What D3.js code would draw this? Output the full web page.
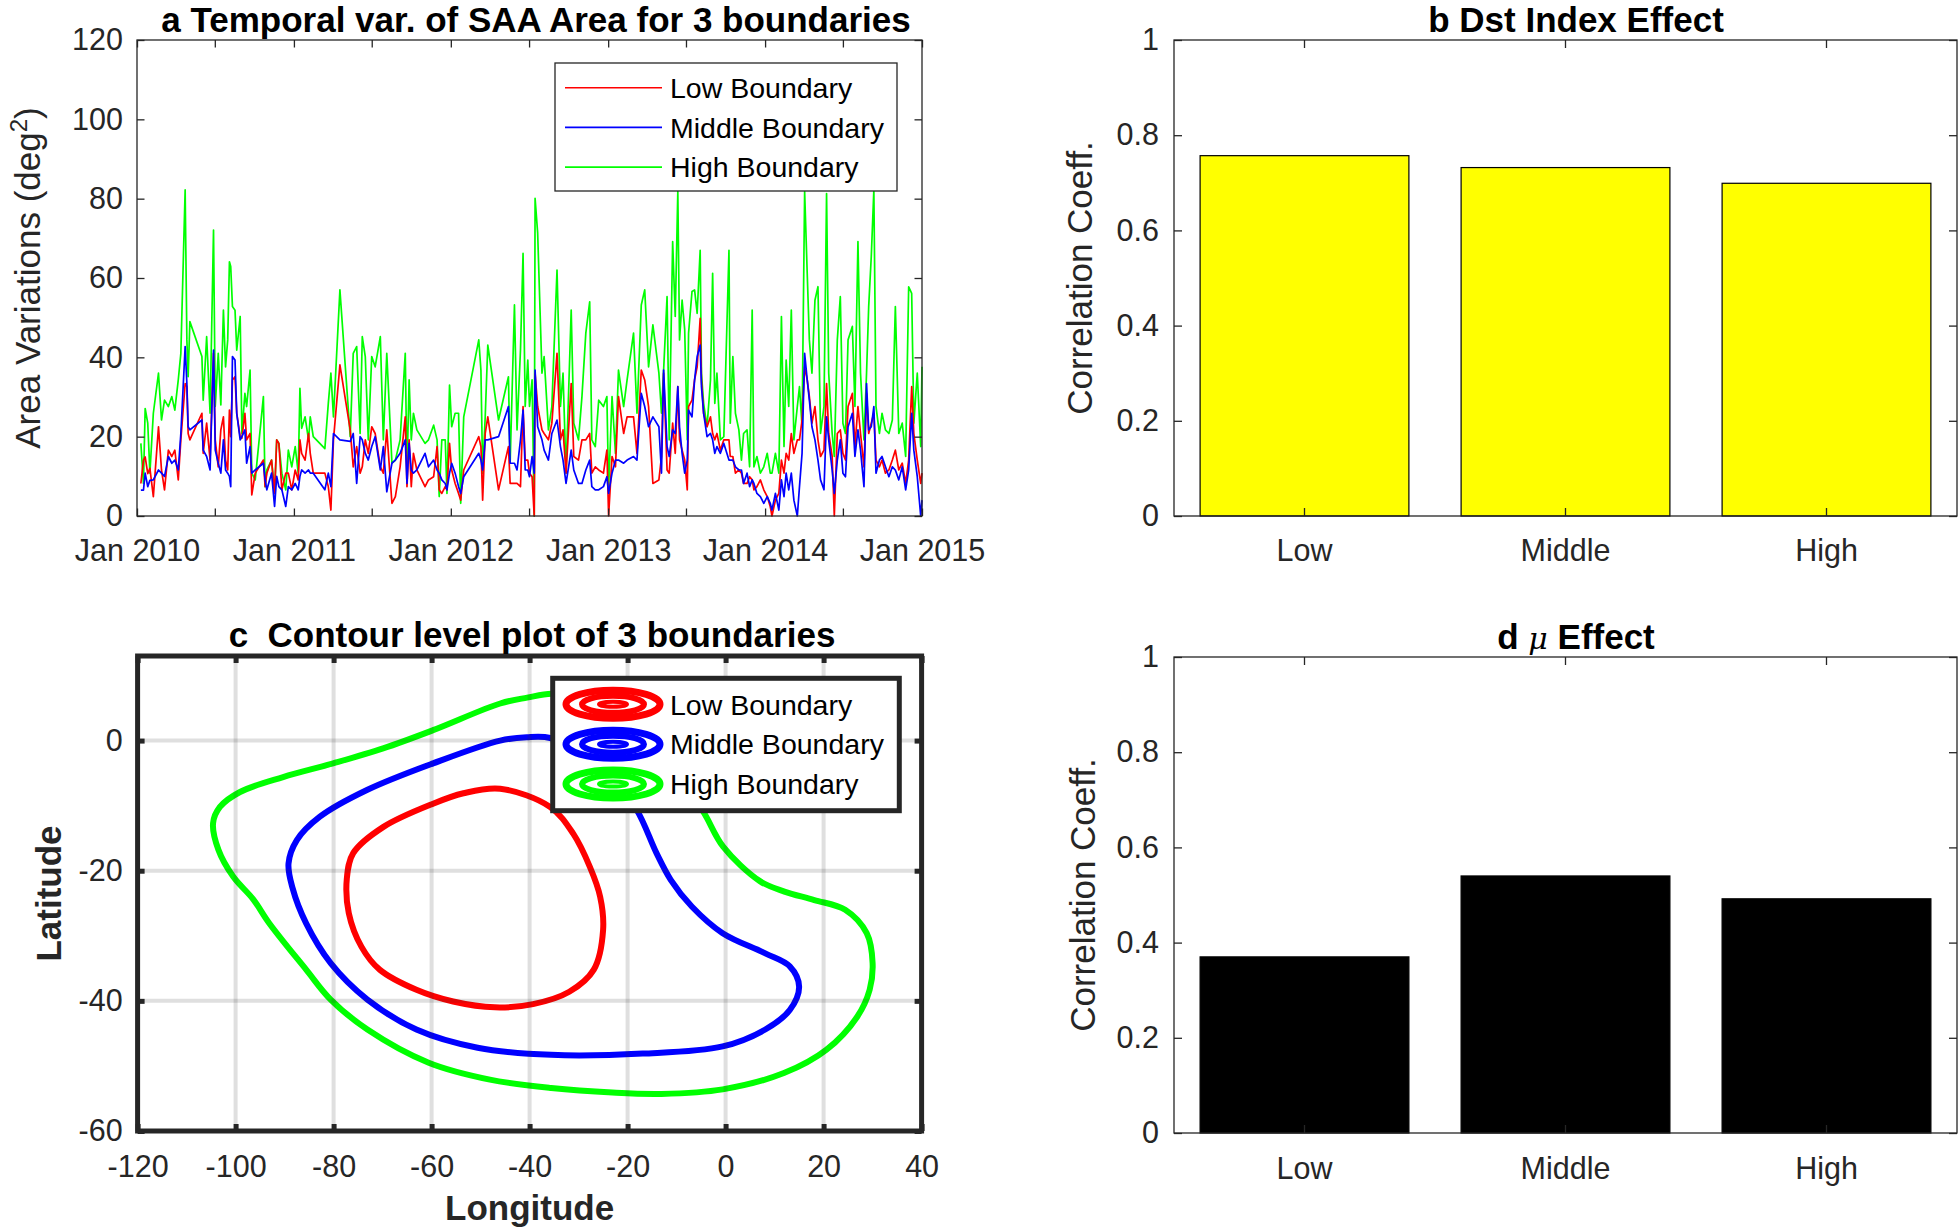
<!DOCTYPE html>
<html><head><meta charset="utf-8">
<script src="https://cdn.jsdelivr.net/npm/d3@7"></script>
<style>
html,body{margin:0;padding:0;background:#fff;}
svg{display:block;font-family:"Liberation Sans",Arial,Helvetica,sans-serif;}
</style></head><body>
<svg id="chart" width="1960" height="1232"></svg>
<script>
// ===================== DATA =====================
// Panel a: observation day (days since 1 Jan 2010) and SAA area (deg^2)
const seriesDays = [9,15,19,25,30,38,50,57,64,73,81,88,96,102,112,116,119,123,151,154,162,170,178,182,189,195,201,206,211,215,218,222,228,232,240,244,251,255,263,267,275,294,298,302,313,320,325,330,337,346,352,360,368,375,379,383,391,399,403,410,437,445,451,457,472,496,503,511,519,524,531,538,546,554,566,573,581,593,
601,612,624,628,633,638,643,651,670,678,690,698,703,709,717,721,727,732,740,748,753,760,795,800,804,810,816,841,864,868,878,884,892,898,903,909,913,919,924,926,932,942,947,957,965,977,985,991,998,1010,1016,1027,1035,1044,1053,1058,1066,1074,1085,1093,1097,1105,1113,1120,1132,1140,1155,1163,1173,1181,1190,1200,
1214,1220,1225,1233,1238,1246,1252,1258,1262,1268,1274,1280,1283,1291,1297,1303,1310,1313,1318,1326,1334,1339,1344,1349,1357,1365,1377,1380,1386,1392,1400,1406,1411,1419,1425,1431,1435,1442,1450,1458,1466,1473,1477,1485,1493,1499,1505,1510,1516,1522,1528,1536,1541,1547,1553,1559,1564,1570,1577,1584,1590,1598,1604,1609,1617,1622,1629,1636,1642,1648,1654,1664,1670,1677,1683,1691,1697,1702,1708,1714,1719,1727,1733,1741,1749,1757,1764,1772,1780,1788,1795,1802,1807,1815,1823,1826];

const highArea = [18.3,8.2,27.1,23.4,10.8,25.9,36.0,24.2,29.2,27.6,30.1,26.7,34.3,41.0,82.2,44.4,35.1,49.0,40.2,29.2,45.2,25.9,72.1,27.6,41.0,28.0,51.9,37.6,44.4,64.1,62.9,52.8,51.9,41.8,50.3,20.8,30.9,27.6,36.8,10.8,9.1,30.1,7.4,11.6,14.1,5.7,19.2,18.3,10.8,6.6,16.6,12.4,17.5,10.8,32.2,22.1,25.0,19.2,25.0,20.0,17.0,28.4,36.0,25.0,57.0,20.0,41.0,42.7,20.8,45.2,40.2,19.2,40.2,37.6,45.2,19.2,41.0,13.3,
14.1,19.2,41.0,10.8,34.3,19.2,25.9,21.7,18.3,19.2,22.9,19.2,4.9,19.2,19.2,5.7,33.0,22.5,25.9,25.9,3.2,25.0,44.4,36.8,10.8,25.0,43.1,24.2,35.1,13.3,53.2,21.7,41.8,66.2,27.6,39.3,27.6,34.3,0.0,80.1,71.3,36.0,40.2,21.7,27.6,62.0,27.6,36.0,10.8,51.9,23.4,19.2,30.1,46.1,54.0,19.2,17.5,29.2,27.6,30.1,6.6,30.1,15.8,36.8,27.6,34.3,46.1,25.9,53.2,57.0,37.6,48.2,
36.0,25.9,36.8,55.3,19.2,69.2,50.3,81.8,44.4,54.4,47.0,19.2,46.1,56.6,57.0,51.1,67.0,36.0,28.4,22.5,34.3,61.2,28.4,36.0,19.2,20.0,67.0,23.4,40.2,25.9,21.7,14.1,20.8,21.7,12.4,51.9,12.4,15.0,10.8,12.4,15.8,10.8,10.8,15.8,10.8,50.3,17.5,39.3,27.6,51.9,19.2,27.6,32.6,22.5,81.8,61.2,44.4,36.0,54.4,57.8,20.8,27.6,81.3,36.0,20.8,15.0,44.4,55.3,23.4,20.8,44.4,47.8,27.6,69.2,36.0,19.2,36.0,52.8,65.4,82.2,27.6,20.8,25.9,21.7,20.8,24.2,52.8,20.8,23.4,15.0,57.8,56.1,23.4,36.0,17.5,37.6];

const lowArea = [8.2,14.1,14.9,10.7,12.0,4.9,22.5,11.6,6.6,16.6,15.0,16.6,9.1,19.2,33.4,32.6,20.8,19.2,25.9,15.8,23.4,14.1,41.0,19.2,12.4,21.7,25.0,14.1,11.6,26.7,20.0,34.3,35.1,25.9,20.0,19.6,25.9,19.2,20.8,5.3,10.8,14.1,7.4,10.8,14.1,5.7,19.2,18.3,6.6,10.8,10.8,6.6,11.6,9.1,19.2,15.8,14.1,20.8,15.8,10.8,10.8,7.4,1.5,19.2,38.1,21.7,12.4,17.5,10.8,12.4,19.2,15.8,22.5,20.8,12.4,10.8,21.7,3.2,
4.9,12.4,25.0,7.4,19.2,7.4,15.8,11.6,7.4,9.1,9.9,17.5,6.6,5.7,7.4,6.6,18.3,11.6,8.2,5.7,4.0,11.6,20.0,17.5,4.0,20.8,25.0,6.6,17.5,8.2,8.2,8.2,7.4,27.6,14.1,14.1,10.8,9.9,0.0,36.0,27.6,21.7,20.8,19.2,23.4,41.0,19.2,21.7,10.8,33.4,15.0,14.1,19.2,19.2,20.8,10.8,12.4,11.6,10.8,16.6,0.0,15.0,12.4,30.1,20.8,25.0,25.0,15.8,36.8,34.3,27.6,8.2,
9.1,15.0,36.0,11.6,10.8,23.4,15.8,32.6,19.2,16.6,14.1,6.6,27.6,29.2,34.3,37.6,49.8,34.3,25.9,22.5,25.0,20.8,19.2,20.8,16.6,19.2,19.2,15.0,15.0,10.8,11.6,10.8,8.2,8.2,9.9,9.1,6.6,7.4,9.1,6.6,4.9,2.4,0.0,4.0,5.7,14.1,10.8,15.8,14.1,20.8,15.8,19.2,19.2,24.2,37.6,34.3,30.1,23.4,27.6,19.2,15.0,16.6,33.4,20.8,15.0,0.0,20.8,21.7,15.8,14.1,27.6,30.9,17.5,27.6,20.8,12.4,30.9,20.8,23.4,25.9,14.1,12.4,14.1,10.8,11.6,14.1,16.6,11.6,13.3,8.2,14.1,32.6,20.8,14.1,8.2,10.8];

const middleArea = [6.5,6.5,10.8,7.4,9.0,9.1,11.6,10.8,10.0,15.0,13.3,14.1,11.6,20.8,42.7,33.4,22.5,21.7,24.2,16.6,15.0,11.6,41.8,16.6,13.3,10.8,19.2,11.6,10.8,10.0,7.4,40.2,39.3,25.9,19.2,20.0,21.7,13.3,17.5,10.8,11.6,13.3,9.1,6.6,10.8,2.4,10.0,7.4,6.6,2.4,7.4,6.6,8.2,6.6,10.0,11.6,10.8,11.6,10.8,10.8,6.6,10.8,7.4,20.8,19.2,18.8,20.8,8.2,20.0,19.2,15.8,14.1,17.5,20.0,11.6,17.5,6.1,13.3,
14.1,15.8,19.2,8.2,18.3,11.6,10.8,11.6,15.8,12.4,14.1,11.6,10.8,9.1,8.2,6.6,10.8,13.3,10.8,7.4,5.7,9.9,15.8,14.1,11.6,19.2,19.2,20.0,27.6,13.3,13.3,11.6,19.2,26.7,11.6,11.6,9.9,15.0,10.8,36.8,22.5,19.2,16.6,14.1,20.8,24.2,17.5,14.1,8.2,16.6,11.6,8.2,8.2,11.6,14.1,7.4,6.6,6.6,7.4,9.9,5.7,10.8,14.1,14.1,13.3,14.1,15.0,14.1,30.9,27.6,22.5,25.0,
22.5,10.8,36.8,17.5,15.0,21.7,20.8,32.6,22.5,15.8,10.8,14.1,26.7,25.0,34.3,40.2,43.1,32.6,25.9,20.0,20.8,19.2,15.8,17.5,15.8,18.3,14.1,14.1,14.1,12.4,11.6,11.6,8.2,10.8,7.4,9.1,8.2,5.7,4.9,3.2,4.9,3.2,1.5,5.7,1.5,9.1,4.9,10.8,6.6,10.8,4.0,0.0,7.4,15.8,41.0,34.3,29.2,22.5,19.2,14.1,9.1,6.6,25.0,19.2,11.6,5.7,14.1,19.2,10.8,9.9,22.5,25.9,15.0,21.7,16.6,7.4,33.4,21.7,22.5,27.6,10.8,14.1,15.0,12.4,9.9,12.4,11.6,9.1,12.4,6.6,11.6,25.9,16.6,9.9,0.0,4.0];

const boundaryNames = ['Low Boundary','Middle Boundary','High Boundary'];
const aYTicks = [0,20,40,60,80,100,120];
const aXTickLabels = ['Jan 2010','Jan 2011','Jan 2012','Jan 2013','Jan 2014','Jan 2015'];

// Panels b & d: correlation coefficients
const barCategories = ['Low','Middle','High'];
const dstCorr = [0.757,0.732,0.699];
const muCorr = [0.370,0.540,0.492];
const corrTicks = [0,0.2,0.4,0.6,0.8,1];

// Panel c: contour boundaries [longitude, latitude]
const lowContour = [[-46.0,-7.4],[-35.8,-10.2],[-31.1,-14.3],[-27.7,-19.4],[-25.6,-24.0],[-25.0,-29.1],[-26.9,-35.2],[-31.9,-38.6],[-39.3,-40.5],[-47.1,-41.0],[-55.6,-40.1],[-63.1,-38.3],[-70.6,-35.2],[-74.3,-31.7],[-76.9,-26.5],[-77.3,-21.2],[-76.0,-17.3],[-69.9,-13.3],[-59.7,-9.7],[-53.5,-8.1]];
const middleContour = [[-46.0,0.0],[-59.7,-3.5],[-73.2,-7.6],[-82.8,-11.7],[-87.5,-15.3],[-89.2,-18.9],[-88.4,-22.6],[-85.6,-28.1],[-80.6,-34.2],[-73.1,-39.8],[-63.1,-44.4],[-50.6,-47.2],[-35.6,-48.3],[-16.9,-48.1],[-0.6,-47.0],[8.1,-44.4],[13.1,-41.4],[15.0,-37.8],[13.1,-34.7],[8.1,-32.7],[-0.6,-29.6],[-6.9,-25.5],[-11.2,-21.4],[-14.1,-17.3],[-18.1,-10.7],[-23.0,-6.0],[-29.0,-2.0],[-35.8,0.4],[-40.6,0.5]];
const highContour = [[-46.0,5.7],[-59.7,1.6],[-69.9,-1.2],[-80.1,-3.5],[-90.3,-5.6],[-99.1,-7.9],[-103.2,-10.2],[-104.6,-12.7],[-103.5,-16.8],[-100.5,-20.9],[-96.4,-24.4],[-93.1,-28.1],[-85.6,-35.2],[-80.6,-39.8],[-73.1,-44.4],[-60.6,-49.5],[-48.1,-52.1],[-35.6,-53.4],[-23.1,-54.1],[-13.1,-54.3],[-0.6,-53.6],[11.9,-51.1],[20.6,-47.5],[26.9,-42.4],[29.4,-38.3],[30.0,-34.2],[28.8,-29.6],[24.4,-26.0],[18.1,-24.5],[12.0,-23.2],[7.0,-21.6],[-0.5,-16.3],[-4.5,-11.0],[-10.0,-5.0],[-18.0,1.5],[-28.0,6.5],[-35.5,7.2],[-40.5,6.6]];
const cXTicks = [-120,-100,-80,-60,-40,-20,0,20,40];
const cYTicks = [-60,-40,-20,0];

// ===================== DRAWING =====================
const FONT = '"Liberation Sans", Arial, Helvetica, sans-serif';
const AX = '#262626';
const TICKFS = 30.5, LABFS = 35, TITFS = 35, LEGFS = 28.5;
const svg = d3.select('#chart');
const colors = ['#ff0000','#0000ff','#00ff00'];

function styleTicks(g, lw){
  g.select('.domain').remove();
  g.selectAll('.tick line').attr('stroke',AX).attr('stroke-width',lw);
  g.selectAll('.tick text').attr('fill',AX).style('font-size',TICKFS+'px').style('font-family',FONT);
}
function frame(g, P, lw){
  g.append('rect').attr('x',P.x0).attr('y',P.y0).attr('width',P.x1-P.x0).attr('height',P.y1-P.y0)
    .attr('fill','none').attr('stroke',AX).attr('stroke-width',lw);
}
function boxAxes(g, P, xs, ys, xVals, yVals, xFmt, yFmt, o){
  const tl=o.tick, lw=o.lw;
  const gl=g.append('g').attr('transform',`translate(${P.x0},0)`)
    .call(d3.axisLeft(ys).tickValues(yVals).tickFormat(yFmt).tickSize(-tl).tickPadding(o.ypad));
  styleTicks(gl,lw);
  const gr=g.append('g').attr('transform',`translate(${P.x1},0)`)
    .call(d3.axisRight(ys).tickValues(yVals).tickFormat('').tickSize(-tl));
  styleTicks(gr,lw);
  const ax=d3.axisBottom(xs).tickSize(-tl).tickFormat(xFmt);
  if(xVals) ax.tickValues(xVals);
  const gb=g.append('g').attr('transform',`translate(0,${P.y1})`).call(ax);
  styleTicks(gb,lw);
  gb.selectAll('.tick text').attr('y',o.xbase).attr('dy',0);
  const ax2=d3.axisTop(xs).tickSize(-tl).tickFormat('');
  if(xVals) ax2.tickValues(xVals);
  const gt=g.append('g').attr('transform',`translate(0,${P.y0})`).call(ax2);
  styleTicks(gt,lw);
}
function yLabel(g, txt, x, y, bold){
  const t=g.append('text').attr('transform',`translate(${x},${y}) rotate(-90)`)
    .attr('text-anchor','middle').attr('fill',AX)
    .style('font-size',LABFS+'px').style('font-family',FONT).style('font-weight',bold?'bold':'normal');
  return t;
}
function title(g, x, y){
  return g.append('text').attr('x',x).attr('y',y).attr('text-anchor','middle').attr('fill','#000')
    .style('font-size',TITFS+'px').style('font-family',FONT).style('font-weight','bold')
    .style('white-space','pre').attr('xml:space','preserve');
}

// ---------- Panel a ----------
const A={x0:137,x1:922,y0:40,y1:516};
const t0=new Date(2010,0,1), t1=new Date(2015,0,1);
const xa=d3.scaleTime().domain([t0,t1]).range([A.x0,A.x1]);
const ya=d3.scaleLinear().domain([0,120]).range([A.y1,A.y0]);
const ga=svg.append('g');
const dates=seriesDays.map(d=>d3.timeDay.offset(t0,d));
const lineA=d3.line().x((v,i)=>xa(dates[i])).y(v=>ya(v));
const seriesA=[lowArea,middleArea,highArea];
[2,0,1].forEach(k=>{
  ga.append('path').datum(seriesA[k]).attr('fill','none').attr('stroke',colors[k])
    .attr('stroke-width',1.7).attr('stroke-linejoin','round').attr('d',lineA);
});
const halfYears=d3.timeMonth.every(6).range(t0,d3.timeDay.offset(t1,1));
boxAxes(ga,A,xa,ya,halfYears,aYTicks,
  d=>d.getMonth()===0?aXTickLabels[d.getFullYear()-2010]:'', d=>d,
  {tick:7.5,lw:1.3,ypad:14,xbase:45});
frame(ga,A,1.3);
// legend a
const La={x:555,y:63,w:342,h:128};
ga.append('rect').attr('x',La.x).attr('y',La.y).attr('width',La.w).attr('height',La.h)
  .attr('fill','#fff').attr('stroke',AX).attr('stroke-width',1.3);
boundaryNames.forEach((n,i)=>{
  const yy=87.7+i*39.7;
  ga.append('line').attr('x1',565).attr('x2',662).attr('y1',yy).attr('y2',yy).attr('stroke',colors[i]).attr('stroke-width',1.6);
  ga.append('text').attr('x',670).attr('y',yy).attr('dy','0.36em').attr('fill','#000')
    .style('font-size',LEGFS+'px').style('font-family',FONT).text(n);
});
const ylA=yLabel(ga,'',40,(A.y0+A.y1)/2,false);
ylA.append('tspan').text('Area Variations (deg');
ylA.append('tspan').attr('baseline-shift','super').style('font-size','24px').text('2');
ylA.append('tspan').text(')');
title(ga,536,32).text('a Temporal var. of SAA Area for 3 boundaries');

// ---------- Bar panels b, d ----------
function barPanel(P, vals, fill, ylx){
  const g=svg.append('g');
  const xs=d3.scaleBand().domain(barCategories).range([P.x0,P.x1]).paddingInner(0.2).paddingOuter(0.1);
  const ys=d3.scaleLinear().domain([0,1]).range([P.y1,P.y0]);
  g.selectAll('rect.bar').data(vals).join('rect').attr('class','bar')
    .attr('x',(v,i)=>xs(barCategories[i])).attr('width',xs.bandwidth())
    .attr('y',v=>ys(v)).attr('height',v=>ys(0)-ys(v))
    .attr('fill',fill).attr('stroke','#000').attr('stroke-width',1.2);
  boxAxes(g,P,xs,ys,null,corrTicks,d=>d,d=>d3.format('')(d),
    {tick:8,lw:1.3,ypad:15,xbase:P.xbase});
  frame(g,P,1.3);
  yLabel(g,'',ylx,(P.y0+P.y1)/2,false).text('Correlation Coeff.');
  return g;
}
const B={x0:1174,x1:1957,y0:40,y1:516,xbase:45};
const gb=barPanel(B,dstCorr,'#ffff00',1092);
title(gb,1576,32).text('b Dst Index Effect');
const D={x0:1174,x1:1957,y0:657,y1:1133,xbase:46};
const gd=barPanel(D,muCorr,'#000000',1095);
const td=title(gd,1576,648.5);
td.append('tspan').text('d ');
td.append('tspan').style('font-style','italic').style('font-weight','normal').style('font-family','"DejaVu Serif","Liberation Serif",serif').style('font-size','30px').text('μ');
td.append('tspan').text(' Effect');

// ---------- Panel c ----------
const C={x0:137.6,x1:921.6,y0:656,y1:1131};
const xc=d3.scaleLinear().domain([-120,40]).range([C.x0,C.x1]);
const yc=d3.scaleLinear().domain([-60,13]).range([C.y1,C.y0]);
const gc=svg.append('g');
const lineC=d3.line().x(d=>xc(d[0])).y(d=>yc(d[1])).curve(d3.curveCatmullRomClosed.alpha(0.5));
const contours=[lowContour,middleContour,highContour];
contours.forEach((c,i)=>{
  gc.append('path').datum(c).attr('fill','none').attr('stroke',colors[i]).attr('stroke-width',6).attr('d',lineC);
});
// grid on top
const gridX=cXTicks.filter(v=>v>-120&&v<40), gridY=cYTicks.filter(v=>v>-60);
gc.selectAll('line.gx').data(gridX).join('line').attr('class','gx')
  .attr('x1',d=>xc(d)).attr('x2',d=>xc(d)).attr('y1',C.y0).attr('y2',C.y1)
  .attr('stroke','rgba(38,38,38,0.15)').attr('stroke-width',4);
gc.selectAll('line.gy').data(gridY).join('line').attr('class','gy')
  .attr('y1',d=>yc(d)).attr('y2',d=>yc(d)).attr('x1',C.x0).attr('x2',C.x1)
  .attr('stroke','rgba(38,38,38,0.15)').attr('stroke-width',4);
boxAxes(gc,C,xc,yc,cXTicks,cYTicks,d=>d,d=>d,{tick:7,lw:5,ypad:15,xbase:46});
gc.selectAll('.tick text').text(function(){return this.textContent.replace('−','-');});
frame(gc,C,5);
// legend c
gc.append('rect').attr('x',552.7).attr('y',678.3).attr('width',346.6).attr('height',132.4)
  .attr('fill','#fff').attr('stroke',AX).attr('stroke-width',5);
boundaryNames.forEach((n,i)=>{
  const yy=704.3+i*39.9, cx=613;
  [[47,14,7],[31,8.5,6],[14,2.5,4]].forEach(([rx,ry,sw])=>{
    gc.append('ellipse').attr('cx',cx).attr('cy',yy).attr('rx',rx).attr('ry',ry)
      .attr('fill','none').attr('stroke',colors[i]).attr('stroke-width',sw);
  });
  gc.append('text').attr('x',670).attr('y',yy).attr('dy','0.36em').attr('fill','#000')
    .style('font-size',LEGFS+'px').style('font-family',FONT).text(n);
});
yLabel(gc,'',61,(C.y0+C.y1)/2,true).text('Latitude');
gc.append('text').attr('x',(C.x0+C.x1)/2).attr('y',1220).attr('text-anchor','middle').attr('fill',AX)
  .style('font-size',LABFS+'px').style('font-family',FONT).style('font-weight','bold').text('Longitude');
title(gc,532,647).text('c  Contour level plot of 3 boundaries');
</script></body></html>
